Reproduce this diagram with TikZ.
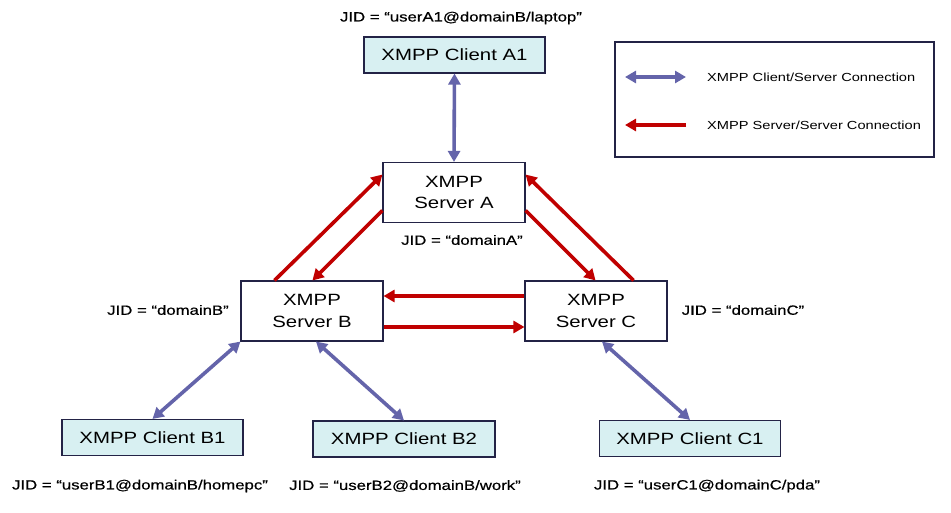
\documentclass[tikz,border=0pt]{standalone}
\usepackage{fontspec}
\setmainfont[FakeStretch=1.25]{Liberation Sans}
\newfontfamily\jidfont[FakeStretch=1.25,FakeBold=0.6]{Liberation Sans}
\usepackage{xcolor}
\usetikzlibrary{arrows.meta}
\definecolor{csline}{RGB}{100,100,170}
\definecolor{ssline}{RGB}{192,0,0}
\definecolor{boxline}{RGB}{35,35,70}
\definecolor{clientfill}{RGB}{216,240,242}

\begin{document}
\begin{tikzpicture}[x=1pt, y=-1pt,
  srv/.style={draw=boxline, line width=1.1pt, align=center, inner sep=0pt,
              font=\fontsize{16.3}{21.7}\selectfont, minimum width=142pt, minimum height=60pt},
  cli/.style={draw=boxline, line width=1.1pt, fill=clientfill, inner sep=0pt,
              font=\fontsize{16.3}{20}\selectfont, minimum width=#1, minimum height=36pt},
  cli/.default=181pt,
  jid/.style={font=\jidfont\fontsize{13.4}{15}\selectfont, inner sep=0pt},
  lgd/.style={font=\fontsize{11.7}{14}\selectfont, inner sep=0pt, anchor=west},
  cs/.style={draw=csline, line width=3.6pt, {Triangle[length=11pt,width=12pt]}-{Triangle[length=11pt,width=12pt]}},
  ss/.style={draw=ssline, line width=3.6pt, -{Triangle[length=11pt,width=12pt]}}]
  \useasboundingbox (0,0) rectangle (951,513);
  % servers
  \node[srv] (srvA) at (454,192.5) {XMPP\\Server A};
  \node[srv] (srvB) at (312,311)   {XMPP\\Server B};
  \node[srv] (srvC) at (596,311)   {XMPP\\Server C};
  % clients
  \node[cli] (cliA1) at (454.5,55) {XMPP Client A1};
  \node[cli] (cliB1) at (152.5,437.5) {XMPP Client B1};
  \node[cli=182pt] (cliB2) at (404,439) {XMPP Client B2};
  \node[cli] (cliC1) at (690,438.5) {XMPP Client C1};
  % JIDs
  \node[jid] (jidA1) at (461,18)  {JID = “userA1@domainB/laptop”};
  \node[jid] (jidA)  at (462,240) {JID = “domainA”};
  \node[jid] (jidB)  at (168,310) {JID = “domainB”};
  \node[jid] (jidC)  at (743,310) {JID = “domainC”};
  \node[jid] (jidB1) at (140,486) {JID = “userB1@domainB/homepc”};
  \node[jid] (jidB2) at (405,486) {JID = “userB2@domainB/work”};
  \node[jid] (jidC1) at (707,486) {JID = “userC1@domainC/pda”};
  % legend
  \node[draw=boxline, line width=1.1pt, minimum width=319pt, minimum height=115pt] (legend) at (774.5,99.5) {};
  \coordinate (lgCa) at (625,77);
  \coordinate (lgCb) at (686,77);
  \coordinate (lgSa) at (686,125);
  \coordinate (lgSb) at (625,125);
  \node[lgd] (lgCtxt) at (707,77)  {XMPP Client/Server Connection};
  \node[lgd] (lgStxt) at (707,125) {XMPP Server/Server Connection};
  \draw[cs] (lgCa) -- (lgCb);
  \draw[ss] (lgSa) -- (lgSb);
  % client/server links
  \draw[cs] (cliA1.south) -- (srvA.north);
  \draw[cs] (cliB1.north) -- (srvB.south west);
  \draw[cs] (cliB2.north) -- ([xshift=4pt]srvB.south);
  \draw[cs] (cliC1.north) -- ([xshift=6pt]srvC.south);
  % server/server links
  \draw[ss] ([xshift=34pt]srvB.north west) -- ([yshift=18pt]srvA.west);
  \draw[ss] ([yshift=-18pt]srvA.west) -- ([xshift=72pt]srvB.north west);
  \draw[ss] ([yshift=-18pt]srvA.east) -- ([xshift=-72pt]srvC.north east);
  \draw[ss] ([xshift=-34pt]srvC.north east) -- ([yshift=18pt]srvA.east);
  \draw[ss] ([yshift=15pt]srvC.west) -- ([yshift=15pt]srvB.east);
  \draw[ss] ([yshift=-16pt]srvB.east) -- ([yshift=-16pt]srvC.west);
\end{tikzpicture}
\end{document}
